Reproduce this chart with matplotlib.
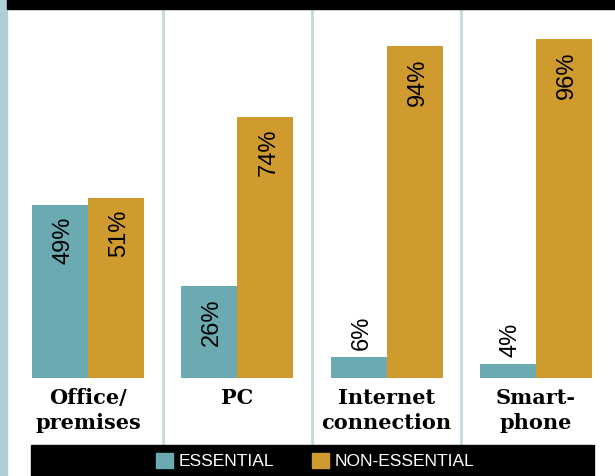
import matplotlib.pyplot as plt
import numpy as np
from matplotlib.patches import Rectangle, Patch

categories = ["Office/\npremises", "PC", "Internet\nconnection", "Smart-\nphone"]
essential = [49, 26, 6, 4]
non_essential = [51, 74, 94, 96]
labels = ["ESSENTIAL", "NON-ESSENTIAL"]

TEAL = "#6caab2"
GOLD = "#cf9b2f"
STRIP = "#aecfd3"
SEP = "#c6dde0"

W, H = 615, 476
fig = plt.figure(figsize=(W / 100, H / 100), dpi=100)

# frame decorations in pixel units
fig.patches.append(Rectangle((0, 0), 7 / W, 1, transform=fig.transFigure, color=STRIP, zorder=0))
fig.patches.append(Rectangle((7 / W, (H - 9) / H), 1, 9 / H, transform=fig.transFigure, color="black", zorder=0))
fig.patches.append(Rectangle((31 / W, 0), (594 - 31) / W, 31 / H, transform=fig.transFigure, color="black", zorder=0))

# axes: group 0 centred at x=88px, groups 149.3px apart, baseline at 98px from bottom
unit = 149.3
ax = fig.add_axes([7 / W, 98 / H, (W - 7) / W, (H - 9 - 98) / H])
ax.set_xlim((7 - 88) / unit, (W - 88) / unit)
ax.set_ylim(0, (H - 9 - 98) / 3.53)
ax.axis("off")

x = np.arange(len(categories))
bw = 56 / unit
b1 = ax.bar(x - bw / 2, essential, bw, color=TEAL, zorder=2)
b2 = ax.bar(x + bw / 2, non_essential, bw, color=GOLD, zorder=2)

for bars, vals in [(b1, essential), (b2, non_essential)]:
    for r, v in zip(bars, vals):
        cx = r.get_x() + r.get_width() / 2
        if v >= 20:
            ax.annotate(f"{v}%", (cx, v), xytext=(3, -12), textcoords="offset pixels",
                        rotation=90, ha="center", va="top", fontsize=17,
                        family="Liberation Sans", zorder=3)
        else:
            ax.annotate(f"{v}%", (cx, v), xytext=(3, 7), textcoords="offset pixels",
                        rotation=90, ha="center", va="bottom", fontsize=17,
                        family="Liberation Sans", zorder=3)

for s in [0.5, 1.5, 2.5]:
    ax.axvline(s, ymin=-67 / 369, ymax=1, color=SEP, lw=2.2, clip_on=False, zorder=1)

for i, c in enumerate(categories):
    ax.annotate(c, (i, 0), xytext=(0, -10), textcoords="offset pixels", ha="center", va="top",
                fontsize=15, fontweight="bold", family="DejaVu Serif", linespacing=1.3,
                annotation_clip=False)

handles = [Patch(color=TEAL), Patch(color=GOLD)]
leg = fig.legend(handles, labels, loc="center", bbox_to_anchor=(315 / W, 15 / H), ncol=2,
                 frameon=False, prop={"family": "Liberation Sans", "size": 12.5},
                 handlelength=1.0, handleheight=1.0, handletextpad=0.3, columnspacing=2.2)
for t in leg.get_texts():
    t.set_color("white")

fig.savefig("out.png", dpi=100)
